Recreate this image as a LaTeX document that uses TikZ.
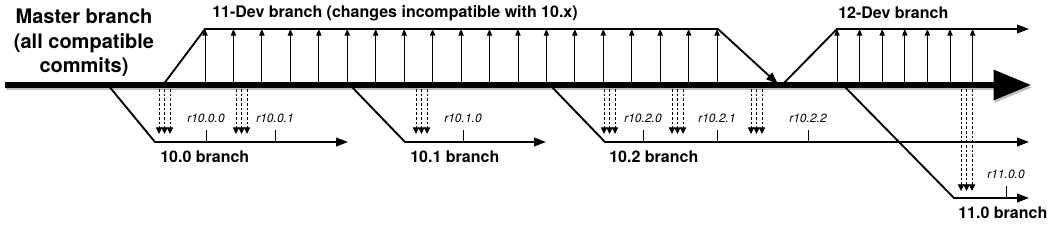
\documentclass[tikz,border=0pt]{standalone}
\usepackage{fontspec}
\setmainfont{TeX Gyre Heros}
\usetikzlibrary{arrows.meta,calc}
\tikzset{
  masterline/.style={line width=3.8pt,draw=black,-{Triangle[length=28pt,width=22pt]}},
  mastershadow/.style={line width=3.8pt,draw=black!25,-{Triangle[length=28pt,width=22pt]}},
  branchline/.style={line width=1.4pt,draw=black,line join=miter,-{Triangle[length=9pt,width=6.5pt]}},
  devline/.style={line width=1.4pt,draw=black,line join=miter},
  commit/.style={line width=0.65pt,draw=black,-{Triangle[length=5pt,width=4pt]}},
  merge/.style={line width=0.65pt,draw=black,dash pattern=on 2pt off 1.5pt,-{Triangle[length=5pt,width=4.8pt]}},
  tick/.style={line width=0.65pt,draw=black},
  bigtitle/.style={font=\bfseries\fontsize{15}{18.5}\selectfont,align=center,inner sep=0pt},
  branchlabel/.style={font=\bfseries\fontsize{12}{14}\selectfont,anchor=west,inner sep=0pt},
  rlabel/.style={font=\itshape\fontsize{9}{10}\selectfont,inner sep=0pt}
}
\begin{document}
\begin{tikzpicture}[x=0.75pt,y=-0.75pt]
  \useasboundingbox (0,0) rectangle (1054,229);
  % master branch
  \coordinate (mstart) at (5,85);
  \coordinate (mend) at (1031,85);
  \draw[mastershadow] ($(mstart)+(1,2.5)$) -- ($(mend)+(1,2.5)$);
  \draw[masterline] (mstart) -- (mend);
  \node[bigtitle] (mastertitle) at (84,43) {Master branch\\(all compatible\\commits)};
  % 11-Dev branch
  \coordinate (d11s) at (163,85);
  \coordinate (d11c) at (205,29);
  \coordinate (d11e) at (718,29);
  \coordinate (d11m) at (778,84);
  \draw[devline] (d11s) -- (d11c) -- (d11e);
  \draw[branchline] (d11e) -- (d11m);
  \foreach \i in {0,...,18}
    \draw[commit] ($(d11c |- mstart)+(\i*28.45,-2)$) -- ($(d11c)+(\i*28.45,0)$);
  \node[branchlabel] (d11label) at (212,13) {11-Dev branch (changes incompatible with 10.x)};
  % 12-Dev branch
  \coordinate (d12s) at (782,85);
  \coordinate (d12c) at (837,29);
  \coordinate (d12e) at (1029,29);
  \draw[branchline] (d12s) -- (d12c) -- (d12e);
  \foreach \i in {0,...,6}
    \draw[commit] ($(d12c |- mstart)+(\i*22.6,-2)$) -- ($(d12c)+(\i*22.6,0)$);
  \node[branchlabel] (d12label) at (838,13) {12-Dev branch};
  % release branches
  \coordinate (b100s) at (108,85);
  \coordinate (b100c) at (155,142);
  \coordinate (b100e) at (348,142);
  \coordinate (b101s) at (350,85);
  \coordinate (b101c) at (405,142);
  \coordinate (b101e) at (546,142);
  \coordinate (b102s) at (550,85);
  \coordinate (b102c) at (605,142);
  \coordinate (b102e) at (1029,142);
  \coordinate (b110s) at (843,85);
  \coordinate (b110c) at (954,198);
  \coordinate (b110e) at (1029,198);
  \draw[branchline] (b100s) -- (b100c) -- (b100e);
  \draw[branchline] (b101s) -- (b101c) -- (b101e);
  \draw[branchline] (b102s) -- (b102c) -- (b102e);
  \draw[branchline] (b110s) -- (b110c) -- (b110e);
  \node[branchlabel] (b100label) at (160,157) {10.0 branch};
  \node[branchlabel] (b101label) at (410,157) {10.1 branch};
  \node[branchlabel] (b102label) at (609,157) {10.2 branch};
  \node[branchlabel] (b110label) at (958,213) {11.0 branch};
  % merged fixes
  \foreach \x/\y in {159/134,236/134,416/134,604/134,672/134,751/134,961/191}
    \foreach \k in {0,1,2}
      \draw[merge] (\x+5.5*\k,89) -- (\x+5.5*\k,\y);
  % release tags
  \foreach \x/\y/\name in {206/142/r10.0.0,275/142/r10.0.1,463/142/r10.1.0,643/142/r10.2.0,717/142/r10.2.1,808/142/r10.2.2,1006/198/r11.0.0}{
    \coordinate (t\x) at (\x,\y);
    \draw[tick] (t\x) -- ++(0,-12);
    \node[rlabel] (l\x) at ($(t\x)+(0,-24)$) {\name};
  }
\end{tikzpicture}
\end{document}
